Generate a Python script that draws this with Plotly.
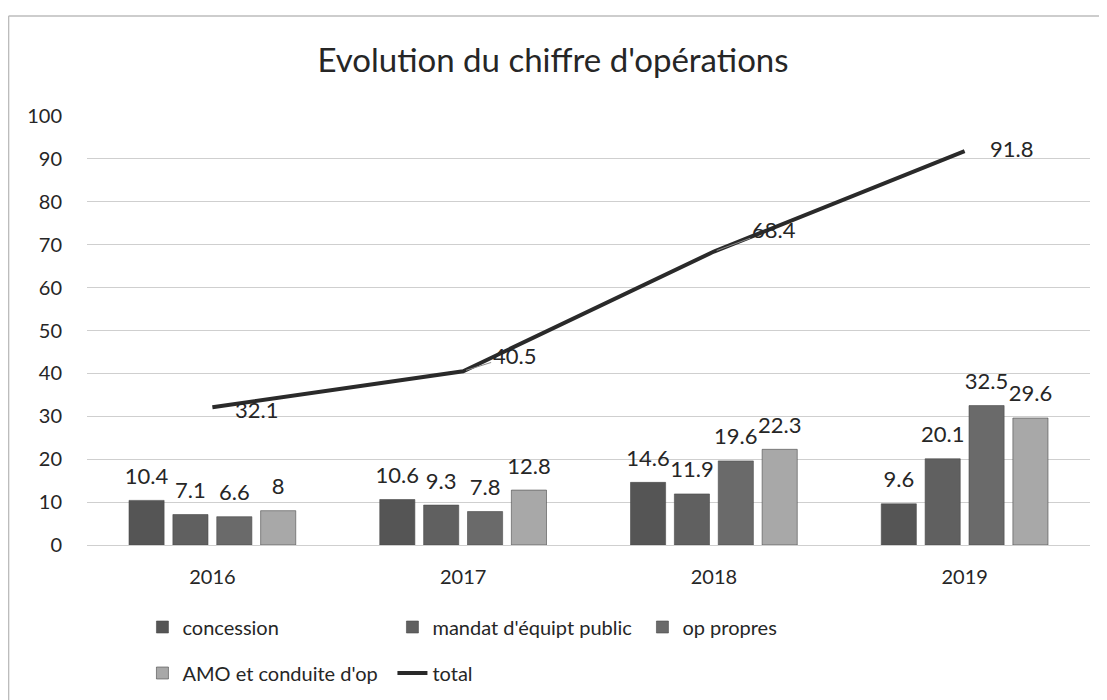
import plotly.graph_objects as go

# ---- data ----
years = ["2016", "2017", "2018", "2019"]
concession = [10.4, 10.6, 14.6, 9.6]
mandat = [7.1, 9.3, 11.9, 20.1]
op_propres = [6.6, 7.8, 19.6, 32.5]
amo = [8, 12.8, 22.3, 29.6]
total = [32.1, 40.5, 68.4, 91.8]
y_ticks = list(range(0, 101, 10))

series_names = ["concession", "mandat d'équipt public", "op propres", "AMO et conduite d'op"]
series_values = [concession, mandat, op_propres, amo]
series_colors = ["#555555", "#606060", "#6a6a6a", "#a8a8a8"]
series_legend = ["legend", "legend", "legend", "legend2"]

# ---- layout constants (page pixels; the page body adds an 8px margin) ----
OFF = 8
W, H = 1107 - OFF, 700 - OFF
PLOT_L, PLOT_R, PLOT_T, PLOT_B = 86.5, 1090.5, 116, 545   # page coords
ML, MT = PLOT_L - OFF, PLOT_T - OFF
PW, PH = PLOT_R - PLOT_L, PLOT_B - PLOT_T
MR, MB = W - ML - PW, H - MT - PH
FONT = "Lato"
TXT = "#262626"
LABEL_LIFT = 2.0   # extra gap (in axis units) between a bar and its value label

def px_x(px):
    return (px - PLOT_L) / PW

def px_y(py):
    return (PLOT_B - py) / PH

fig = go.Figure()

for k, (name, vals, col, lg) in enumerate(zip(series_names, series_values, series_colors, series_legend)):
    fig.add_trace(go.Bar(
        x=years, y=vals, name=name, legend=lg, offsetgroup=str(k),
        marker=dict(color=col, line=dict(color="#4a4a4a", width=0.6)),
    ))
    # transparent spacer on top of each bar carrying the value label
    fig.add_trace(go.Bar(
        x=years, y=[LABEL_LIFT] * len(vals), base=vals, offsetgroup=str(k),
        showlegend=False, hoverinfo="skip",
        marker=dict(color="rgba(0,0,0,0)", line=dict(width=0)),
        text=[f"{v:g}" for v in vals], textposition="outside", constraintext="none",
        textfont=dict(family=FONT, size=22, color=TXT), cliponaxis=False,
    ))

fig.add_trace(go.Scatter(
    x=years, y=total, name="total", legend="legend2", mode="lines",
    line=dict(color="#2a2a2a", width=4),
))

# labels of the total line (offsets in pixels)
label_off = [(44, 2, False), (51, -16, True), (60, -22, True), (47, -3, False)]
for i, (v, (dx, dy, arrow)) in enumerate(zip(total, label_off)):
    if arrow:
        fig.add_annotation(x=i, y=v, xref="x", yref="y", text=str(v),
                           showarrow=True, ax=dx, ay=dy, arrowhead=0,
                           arrowwidth=1, arrowcolor="#8a8a8a", standoff=3,
                           font=dict(family=FONT, size=22, color=TXT))
    else:
        fig.add_annotation(x=i, y=v, xref="x", yref="y", text=str(v),
                           showarrow=False, xshift=dx, yshift=-dy,
                           font=dict(family=FONT, size=22, color=TXT))

# chart frame (scanned border)
fig.add_shape(type="line", xref="paper", yref="paper",
              x0=px_x(8), x1=px_x(1110), y0=px_y(16), y1=px_y(16),
              line=dict(color="#bcbcbc", width=1.5))
fig.add_shape(type="line", xref="paper", yref="paper",
              x0=px_x(8), x1=px_x(8), y0=px_y(16), y1=px_y(705),
              line=dict(color="#bcbcbc", width=1.5))

fig.update_layout(
    width=W, height=H,
    margin=dict(l=ML, r=MR, t=MT, b=MB, autoexpand=False),
    paper_bgcolor="white", plot_bgcolor="white",
    font=dict(family=FONT, size=20, color=TXT),
    title=dict(text="Evolution du chiffre d'opérations", x=(553 - OFF) / W, xanchor="center",
               y=1 - (60 - OFF) / H, yanchor="middle", xref="container", yref="container",
               font=dict(family=FONT, size=33, color=TXT)),
    barmode="group", bargap=0.3, bargroupgap=0.2,
    xaxis=dict(type="category", range=[-0.5, len(years) - 0.5], showgrid=False,
               showline=False, ticks="",
               tickfont=dict(family=FONT, size=20, color=TXT), ticklabelstandoff=18),
    yaxis=dict(range=[0, 100], tickvals=y_ticks, showgrid=True, gridcolor="#cfcfcf",
               gridwidth=1, zeroline=True, zerolinecolor="#cfcfcf", zerolinewidth=1,
               showline=False, ticks="", tickfont=dict(family=FONT, size=20, color=TXT),
               ticklabelstandoff=24),
    legend=dict(orientation="h", x=px_x(142), xanchor="left", y=px_y(627), yanchor="middle",
                entrywidth=205, entrywidthmode="pixels", bgcolor="rgba(0,0,0,0)",
                font=dict(family=FONT, size=20, color=TXT)),
    legend2=dict(orientation="h", x=px_x(142), xanchor="left", y=px_y(673), yanchor="middle",
                 entrywidth=205, entrywidthmode="pixels", bgcolor="rgba(0,0,0,0)",
                 font=dict(family=FONT, size=20, color=TXT)),
    showlegend=True,
)

fig.write_html("out.html")
